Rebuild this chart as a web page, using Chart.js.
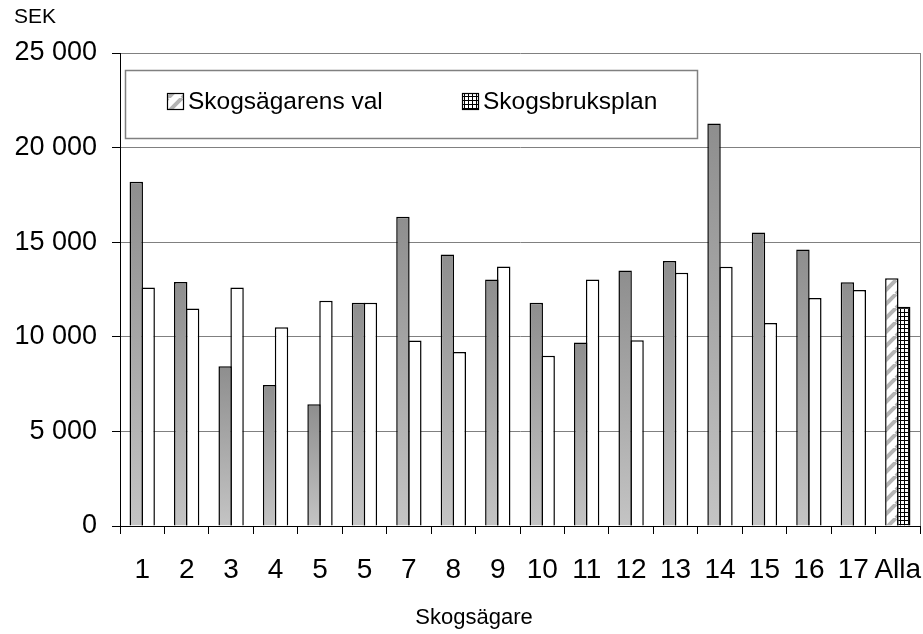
<!DOCTYPE html>
<html>
<head>
<meta charset="utf-8">
<script src="https://cdn.jsdelivr.net/npm/chart.js@4.4.0/dist/chart.umd.min.js"></script>
<style>
  html, body { margin: 0; padding: 0; background: #fff; }
  #chart { display: block; }
</style>
</head>
<body>
<canvas id="chart" width="923" height="634"></canvas>
<script>
const owners = ['1', '2', '3', '4', '5', '5', '7', '8', '9', '10', '11', '12', '13', '14', '15', '16', '17', 'Alla'];
const ownerChoice = [18200, 12900, 8450, 7450, 6430, 11800, 16340, 14350, 13030, 11800, 9700, 13510, 14000, 21280, 15510, 14620, 12880, 13090];
const forestPlan = [12600, 11500, 12600, 10500, 11900, 11800, 9800, 9200, 13720, 9000, 13030, 9820, 13390, 13700, 10730, 12050, 12480, 11590];
const yTicks = [0, 5000, 10000, 15000, 20000, 25000];
const seriesNames = ['Skogsägarens val', 'Skogsbruksplan'];

const FONT = "'Liberation Sans', Arial, sans-serif";

const canvas = document.getElementById('chart');
const ctx = canvas.getContext('2d');

// "25 000" style with space as thousands separator
function fmt(v) {
    return String(v).replace(/\B(?=(\d{3})+(?!\d))/g, ' ');
}

// white with grey "/" stripes, used for the summary bar
function stripePattern() {
    const c = document.createElement('canvas');
    c.width = 14; c.height = 14;
    const p = c.getContext('2d');
    p.fillStyle = '#fff';
    p.fillRect(0, 0, 14, 14);
    p.strokeStyle = '#b4b4b4';
    p.lineWidth = 4;
    p.beginPath();
    p.moveTo(-14, 14); p.lineTo(0, 0);
    p.moveTo(0, 14); p.lineTo(14, 0);
    p.moveTo(14, 14); p.lineTo(28, 0);
    p.stroke();
    return ctx.createPattern(c, 'repeat');
}

// small black grid on white
function gridPattern() {
    const c = document.createElement('canvas');
    c.width = 4; c.height = 4;
    const p = c.getContext('2d');
    p.fillStyle = '#fff';
    p.fillRect(0, 0, 4, 4);
    p.fillStyle = '#000';
    p.fillRect(0, 0, 4, 1);
    p.fillRect(0, 0, 1, 4);
    return ctx.createPattern(c, 'repeat');
}

const stripes = stripePattern();
const grid = gridPattern();
const last = owners.length - 1;

// grey bars fade from dark at the top to light at the base
function darkFill(context) {
    const chart = context.chart;
    if (context.type !== 'data' || !chart.chartArea) return '#a8a8a8';
    if (context.dataIndex === last) return stripes;
    const y = chart.scales.y;
    const top = y.getPixelForValue(context.raw);
    const base = y.getPixelForValue(0);
    const g = chart.ctx.createLinearGradient(0, top, 0, base);
    g.addColorStop(0, '#8e8e8e');
    g.addColorStop(1, '#c4c4c4');
    return g;
}

function lightFill(context) {
    return context.dataIndex === last ? grid : '#fff';
}

const decorations = {
    id: 'decorations',
    afterDraw(chart) {
        const c = chart.ctx;
        const area = chart.chartArea;
        c.save();

        // right side of the plot frame
        c.strokeStyle = '#808080';
        c.lineWidth = 1;
        c.beginPath();
        c.moveTo(Math.round(area.right) + 0.5, area.top);
        c.lineTo(Math.round(area.right) + 0.5, area.bottom);
        c.stroke();

        // legend box
        c.fillStyle = '#fff';
        c.strokeStyle = '#808080';
        c.lineWidth = 1.5;
        c.fillRect(125.5, 70.5, 572, 68);
        c.strokeRect(125.5, 70.5, 572, 68);

        const items = [
            { x: 167, fill: stripes, text: seriesNames[0] },
            { x: 462, fill: grid, text: seriesNames[1] }
        ];
        c.font = '24.5px ' + FONT;
        c.textBaseline = 'middle';
        c.textAlign = 'left';
        for (const it of items) {
            c.fillStyle = it.fill;
            c.fillRect(it.x, 93, 17, 17);
            c.strokeStyle = '#000';
            c.lineWidth = 1.2;
            c.strokeRect(it.x + 0.5, 93.5, 16, 16);
            c.fillStyle = '#000';
            c.fillText(it.text, it.x + 21, 102);
        }

        // axis titles
        c.font = '21px ' + FONT;
        c.fillText('SEK', 14, 17);
        c.font = '22px ' + FONT;
        c.textAlign = 'center';
        c.fillText('Skogsägare', 474, 618);
        c.restore();
    }
};

new Chart(ctx, {
    type: 'bar',
    data: {
        labels: owners,
        datasets: [{
            label: seriesNames[0],
            data: ownerChoice,
            backgroundColor: darkFill,
            borderColor: '#000',
            borderWidth: 1.5,
            borderSkipped: 'start',
            categoryPercentage: 0.5365,
            barPercentage: 1.1255
        }, {
            label: seriesNames[1],
            data: forestPlan,
            backgroundColor: lightFill,
            borderColor: '#000',
            borderWidth: 1.5,
            borderSkipped: 'start',
            categoryPercentage: 0.5365,
            barPercentage: 1.1255
        }]
    },
    options: {
        responsive: false,
        animation: false,
        devicePixelRatio: 1,
        layout: { padding: { top: 53, right: 3, bottom: 0, left: 0 } },
        plugins: {
            legend: { display: false },
            tooltip: { enabled: false }
        },
        scales: {
            x: {
                offset: true,
                grid: {
                    offset: true,
                    drawOnChartArea: false,
                    drawTicks: true,
                    tickLength: 8,
                    tickColor: '#000'
                },
                border: { display: true, color: '#000', width: 1 },
                ticks: {
                    color: '#000',
                    font: { family: FONT, size: 28 },
                    padding: 19,
                    maxRotation: 0,
                    autoSkip: false
                },
                afterFit(scale) {
                    scale.height = 108;
                    // let the last label run to the canvas edge
                    scale.paddingLeft = 0;
                    scale.paddingRight = 0;
                }
            },
            y: {
                min: 0,
                max: 25000,
                afterBuildTicks(scale) {
                    scale.ticks = yTicks.map(v => ({ value: v }));
                },
                grid: {
                    color: '#808080',
                    lineWidth: 1,
                    drawTicks: true,
                    tickLength: 8,
                    tickColor: '#000'
                },
                border: { display: true, color: '#000', width: 1 },
                ticks: {
                    color: '#000',
                    font: { family: FONT, size: 27 },
                    padding: 15,
                    callback: v => fmt(v)
                },
                afterFit(scale) { scale.width = 120; }
            }
        }
    },
    plugins: [decorations]
});
</script>
</body>
</html>
